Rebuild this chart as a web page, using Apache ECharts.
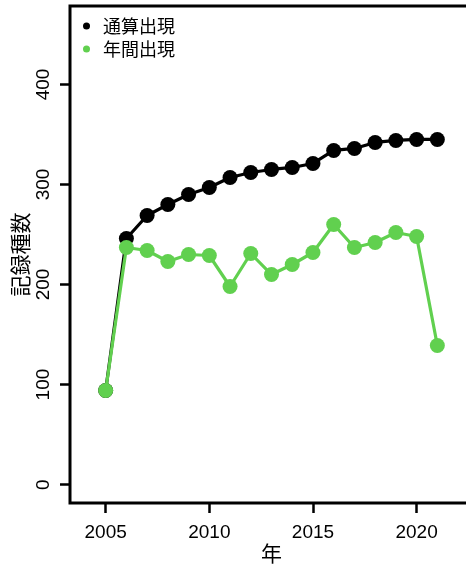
<!DOCTYPE html>
<html><head><meta charset="utf-8">
<script src="https://cdn.jsdelivr.net/npm/echarts@6/dist/echarts.min.js"></script>
<style>html,body{margin:0;padding:0;background:#fff}#c{width:466px;height:570px}</style>
</head><body><div id="c"></div>
<script>
const years = [2005,2006,2007,2008,2009,2010,2011,2012,2013,2014,2015,2016,2017,2018,2019,2020,2021];
const cumulative = [94,246,269,280,290,297,307,312,315,317,321,334,336,342,344,345,345];
const annual = [94,237,234,223,230,229,198,231,210,220,232,260,237,242,252,248,139];
const xTicks = [2005,2010,2015,2020];
const yTicks = [0,100,200,300,400];
const seriesNames = ['通算出現','年間出現'];
const FONT = '"Liberation Sans","Noto Sans CJK JP",sans-serif';
const CJK = '"Noto Sans CJK JP","Liberation Sans",sans-serif';
const green = '#61D04F';
const chart = echarts.init(document.getElementById('c'), null, {renderer:'canvas'});
chart.setOption({
  animation:false,
  backgroundColor:'#fff',
  textStyle:{fontFamily:FONT},
  grid:{left:70, top:6, right:-7, bottom:67, outerBoundsMode:'none', containLabel:false,
        show:true, borderColor:'#000', borderWidth:3, backgroundColor:'transparent'},
  legend:{
    orient:'vertical', left:83, top:17, padding:0, itemGap:5, itemWidth:7, itemHeight:7,
    textStyle:{fontSize:18, color:'#000', fontFamily:CJK, padding:[0,0,0,8]},
    data:[{name:seriesNames[0], icon:'circle', itemStyle:{color:'#000'}},{name:seriesNames[1], icon:'circle', itemStyle:{color:green}}]
  },
  xAxis:{
    type:'value', min:2003.28, max:2022.72,
    name:'年', nameLocation:'middle', nameGap:40, nameMoveOverlap:false,
    nameTextStyle:{fontSize:21, color:'#000', fontFamily:CJK},
    axisLine:{show:false, onZero:false}, splitLine:{show:false},
    axisTick:{show:true, length:10, lineStyle:{color:'#000', width:2.5}, customValues:xTicks},
    axisLabel:{fontSize:19, color:'#000', margin:20, customValues:xTicks, fontFamily:FONT, formatter:v=>String(v)}
  },
  yAxis:{
    type:'value', min:-18.4, max:478.4,
    name:'記録種数', nameLocation:'middle', nameGap:39, nameMoveOverlap:false,
    nameTextStyle:{fontSize:21, color:'#000', fontFamily:CJK},
    axisLine:{show:false, onZero:false}, splitLine:{show:false},
    axisTick:{show:true, length:10, lineStyle:{color:'#000', width:2.5}, customValues:yTicks},
    axisLabel:{fontSize:19, color:'#000', margin:17, rotate:90, customValues:yTicks, fontFamily:FONT, formatter:v=>String(v)}
  },
  series:[
    {name:seriesNames[0], type:'line', data:years.map((y,i)=>[y,cumulative[i]]),
     symbol:'circle', symbolSize:15, itemStyle:{color:'#000'}, lineStyle:{color:'#000', width:3.2}, z:2},
    {name:seriesNames[1], type:'line', data:years.map((y,i)=>[y,annual[i]]),
     symbol:'circle', symbolSize:15, itemStyle:{color:green}, lineStyle:{color:green, width:3.2}, z:3}
  ]
});
</script></body></html>
